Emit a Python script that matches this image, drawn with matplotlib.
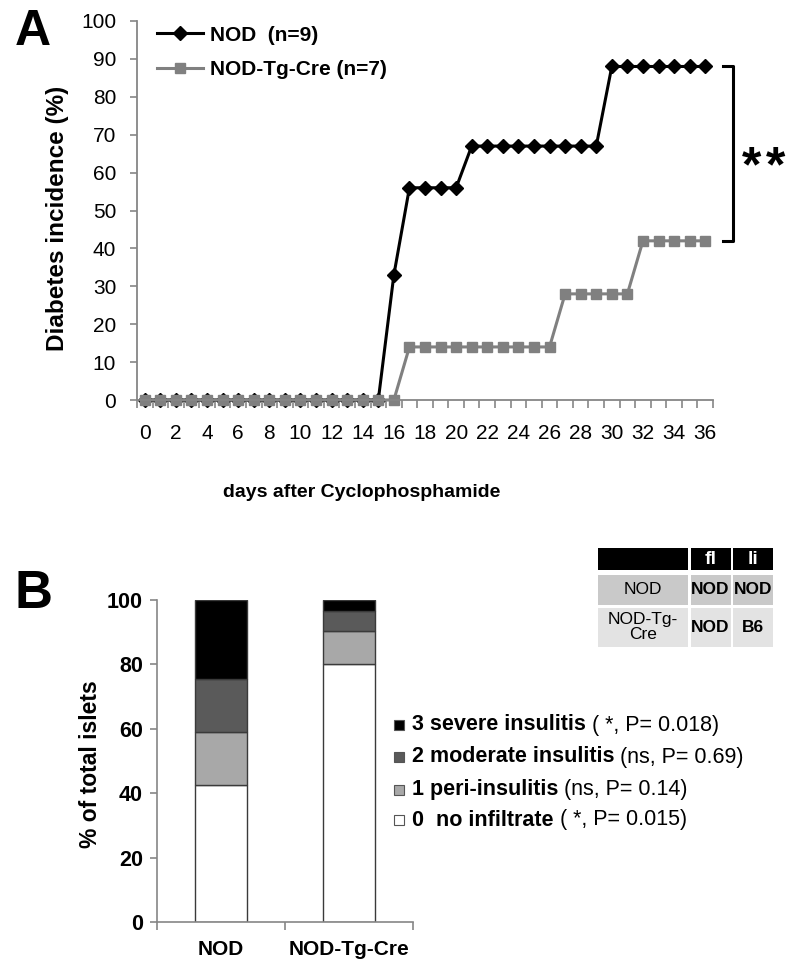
import matplotlib
matplotlib.use("Agg")
import matplotlib.pyplot as plt
from matplotlib.patches import Rectangle
from matplotlib.ticker import FixedLocator

plt.rcParams['font.family'] = ['Liberation Sans', 'DejaVu Sans']

# --- panel A data: diabetes incidence (%) per day
days = list(range(37))
nod = [0, 0, 0, 0, 0, 0, 0, 0, 0, 0, 0, 0, 0, 0, 0, 0,
       33, 56, 56, 56, 56,
       67, 67, 67, 67, 67, 67, 67, 67, 67,
       88, 88, 88, 88, 88, 88, 88]
tg_cre = [0, 0, 0, 0, 0, 0, 0, 0, 0, 0, 0, 0, 0, 0, 0, 0, 0,
          14, 14, 14, 14, 14, 14, 14, 14, 14, 14,
          28, 28, 28, 28, 28,
          42, 42, 42, 42, 42]
day_labels = [str(d) for d in range(0, 37, 2)]

# --- panel B data: % of total islets by insulitis grade
groups = ['NOD', 'NOD-Tg-Cre']
grade0 = [42.4, 80.2]
grade1 = [16.5, 10.2]
grade2 = [16.6, 6.1]
grade3 = [24.5, 3.5]
grade_names = ['3 severe insulitis', '2 moderate insulitis',
               '1 peri-insulitis', '0  no infiltrate']
grade_stats = [' ( *, P= 0.018)', ' (ns, P= 0.69)',
               ' (ns, P= 0.14)', ' ( *, P= 0.015)']
grade_colors = ['#000000', '#5a5a5a', '#a8a8a8', '#ffffff']

# --- strain table
table_header = ['', 'fl', 'li']
table_rows = [['NOD', 'NOD', 'NOD'],
              ['NOD-Tg-\nCre', 'NOD', 'B6']]

W, H = 800, 973
fig = plt.figure(figsize=(8, 9.73), dpi=100)

def fx(px):
    return px / W

def fy(py):
    return 1 - py / H

axis_gray = '#868686'
mid_gray = '#808080'

# ================= panel A
ax = fig.add_axes([fx(137), fy(400), fx(713) - fx(137), fy(21) - fy(400)])
ax.plot(days, nod, color='black', lw=2.2, marker='D', ms=7,
        label='NOD  (n=9)', clip_on=False)
ax.plot(days, tg_cre, color=mid_gray, lw=2.2, marker='s', ms=7.2,
        label='NOD-Tg-Cre (n=7)', clip_on=False)
ax.set_xlim(-0.5, 36.5)
ax.set_ylim(0, 100)
for s in ['top', 'right']:
    ax.spines[s].set_visible(False)
for s in ['left', 'bottom']:
    ax.spines[s].set_color(axis_gray)
    ax.spines[s].set_linewidth(1.3)
ax.set_yticks(range(0, 101, 10))
ax.set_xticks(range(0, 37, 2))
ax.set_xticklabels(day_labels)
ax.xaxis.set_minor_locator(FixedLocator([d - 0.5 for d in days] + [days[-1] + 0.5]))
ax.tick_params(axis='x', which='major', length=0, pad=17, labelsize=15)
ax.tick_params(axis='x', which='minor', length=6, color=axis_gray, width=1.2)
ax.tick_params(axis='y', length=5, color=axis_gray, width=1.2, pad=10, labelsize=15)
ax.set_ylabel('Diabetes incidence (%)', fontsize=17.5, weight='bold')
ax.yaxis.set_label_coords(-0.118, 0.478)
ax.set_xlabel('days after Cyclophosphamide', fontsize=14, weight='bold')
ax.xaxis.set_label_coords(0.39, -0.222)
leg = ax.legend(loc='upper left', bbox_to_anchor=(0.003, 1.037), frameon=False,
                numpoints=1, handlelength=2.2, handletextpad=0.3,
                labelspacing=0.75, prop={'size': 15, 'weight': 'bold'})

# significance bracket between final values
bx0, bx1 = 37.15, 37.8
ax.plot([bx0, bx1, bx1, bx0], [nod[-1], nod[-1], tg_cre[-1], tg_cre[-1]],
        color='black', lw=2.2, clip_on=False)
star_y = (nod[-1] + tg_cre[-1]) / 2 - 4
for sx in [38.95, 40.55]:
    ax.text(sx, star_y, '*', fontsize=36, weight='bold',
            ha='center', va='center', clip_on=False)

# ================= panel B
bx = fig.add_axes([fx(157), fy(922), fx(413) - fx(157), fy(600) - fy(922)])
pos = range(len(groups))
bottom = [0, 0]
for vals, col in zip([grade0, grade1, grade2, grade3], grade_colors[::-1]):
    bx.bar(pos, vals, width=0.4, bottom=bottom, color=col,
           edgecolor='#3a3a3a', linewidth=1)
    bottom = [b + v for b, v in zip(bottom, vals)]
bx.set_xlim(-0.5, 1.5)
bx.set_ylim(0, 100)
for s in ['top', 'right']:
    bx.spines[s].set_visible(False)
for s in ['left', 'bottom']:
    bx.spines[s].set_color(axis_gray)
    bx.spines[s].set_linewidth(1.2)
bx.set_yticks(range(0, 101, 20))
bx.set_xticks(list(pos))
bx.set_xticklabels(groups, weight='bold')
bx.xaxis.set_minor_locator(FixedLocator([-0.5, 0.5, 1.5]))
bx.tick_params(axis='x', which='major', length=0, pad=13, labelsize=15)
bx.tick_params(axis='x', which='minor', length=6, color=axis_gray, width=1.2)
bx.tick_params(axis='y', length=5, color=axis_gray, width=1.2, pad=5, labelsize=15.5)
for t in bx.get_yticklabels():
    t.set_fontweight('bold')
bx.set_ylabel('% of total islets', fontsize=16.5, weight='bold')
bx.yaxis.set_label_coords(-0.215, 0.49)

# legend for panel B (bold grade + regular statistics)
leg_y = [725, 757, 790, 820]
name_texts = []
for name, col, y in zip(grade_names, grade_colors, leg_y):
    fig.patches.append(Rectangle((fx(394), fy(y + 5)), fx(10), fy(0) - fy(10),
                                 transform=fig.transFigure, facecolor=col,
                                 edgecolor='#555555', lw=0.8))
    name_texts.append(fig.text(fx(412), fy(y), name, fontsize=15.5,
                               weight='bold', va='center'))
fig.canvas.draw()
rend = fig.canvas.get_renderer()
for t, stat, y in zip(name_texts, grade_stats, leg_y):
    x1 = t.get_window_extent(rend).x1 / fig.bbox.width
    fig.text(x1, fy(y), stat, fontsize=15.5, va='center')

# strain table
tx = fig.add_axes([fx(598), fy(647), fx(773) - fx(598), fy(548) - fy(647)])
tx.set_xlim(0, 175)
tx.set_ylim(99, 0)
tx.axis('off')
col_x = [(0, 90), (92.5, 132.5), (135, 175)]
row_y = [(0, 22), (27, 57), (59.5, 99)]
row_colors = ['#000000', '#c9c9c9', '#e3e3e3']
all_rows = [table_header] + table_rows
for r, (cells, (y0, y1), rc) in enumerate(zip(all_rows, row_y, row_colors)):
    for c, (txt, (x0, x1)) in enumerate(zip(cells, col_x)):
        tx.add_patch(Rectangle((x0, y0), x1 - x0, y1 - y0, facecolor=rc,
                               edgecolor='none'))
        if r == 0:
            tx.text((x0 + x1) / 2, (y0 + y1) / 2 + 1, txt, color='white',
                    fontsize=14, weight='bold', ha='center', va='center')
        else:
            tx.text((x0 + x1) / 2, (y0 + y1) / 2, txt, fontsize=12.5,
                    weight='normal' if c == 0 else 'bold', ha='center',
                    va='center', linespacing=1.0)

# panel letters
fig.text(fx(33), fy(32), 'A', fontsize=36, weight='bold', ha='center', va='center')
fig.text(fx(33), fy(594), 'B', fontsize=38, weight='bold', ha='center', va='center')

fig.savefig('out.png', dpi=100)
